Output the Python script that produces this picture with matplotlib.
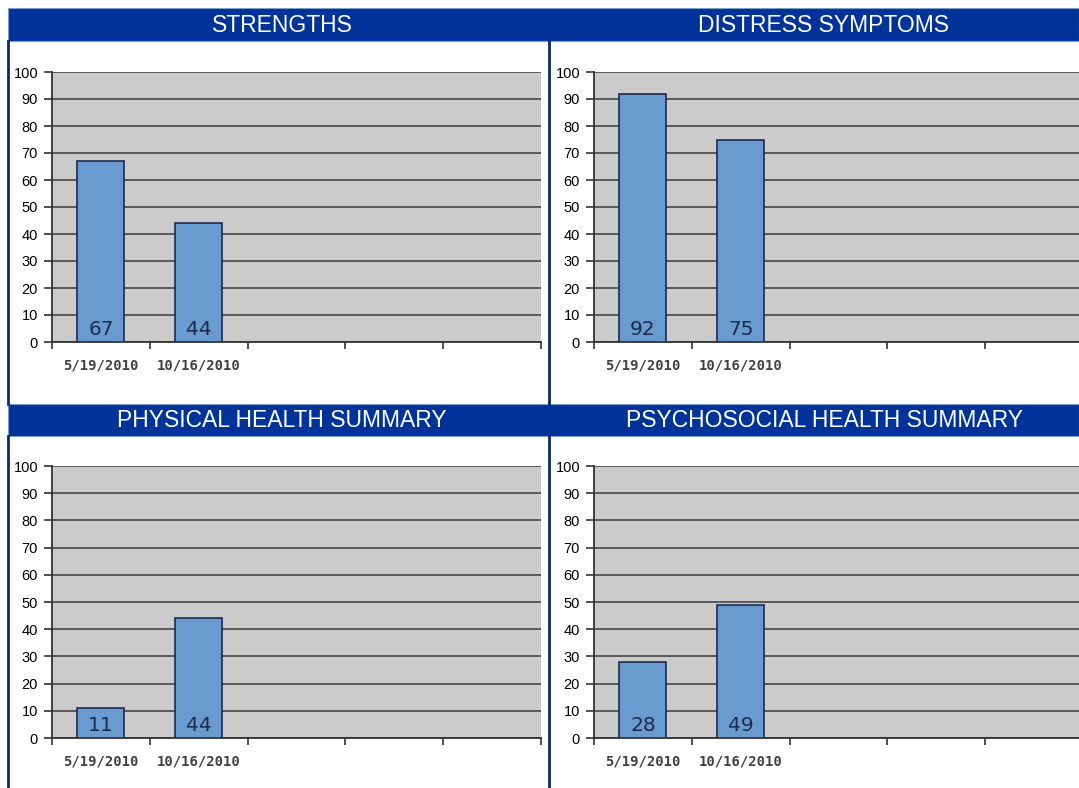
import matplotlib
matplotlib.use("Agg")
import matplotlib.pyplot as plt
from matplotlib.patches import Rectangle
from matplotlib.lines import Line2D

# data
dates = ["5/19/2010", "10/16/2010", "", "", ""]
titles = ["STRENGTHS", "DISTRESS SYMPTOMS",
          "PHYSICAL HEALTH SUMMARY", "PSYCHOSOCIAL HEALTH SUMMARY"]
strengths = [67, 44]
distress = [92, 75]
physical = [11, 44]
psychosocial = [28, 49]

W, H = 1079, 788
fig = plt.figure(figsize=(W / 100, H / 100), dpi=100)
fig.patch.set_facecolor("white")

def px(x0, y0, x1, y1):
    # pixel box (top-left origin) -> figure fraction rect
    return [x0 / W, 1 - y1 / H, (x1 - x0) / W, (y1 - y0) / H]

navy = "#0a2a6e"
header_blue = "#00339a"

# header bars
for y0, y1 in [(8, 41), (404, 436)]:
    fig.add_artist(Rectangle((8 / W, 1 - y1 / H), (W - 8) / W, (y1 - y0) / H,
                             transform=fig.transFigure, facecolor=header_blue,
                             edgecolor="#7f9ccc", lw=0.8))

# panel border lines
for x in [8, 549]:
    for y0, y1 in [(41, 404), (436, 788)]:
        fig.add_artist(Line2D([x / W, x / W], [1 - y0 / H, 1 - y1 / H],
                              transform=fig.transFigure, color=navy, lw=2))

# title text
title_pos = [(282, 25), (824, 25), (282, 420), (824, 420)]
for t, (x, y) in zip(titles, title_pos):
    fig.text(x / W, 1 - y / H, t, color="white", ha="center", va="center",
             fontsize=16.5, family="Liberation Sans")

panels = [
    (strengths, px(52, 72, 541, 342)),
    (distress, px(594, 72, 1083, 342)),
    (physical, px(52, 466, 541, 738)),
    (psychosocial, px(594, 466, 1083, 738)),
]

for vals, rect in panels:
    ax = fig.add_axes(rect)
    ax.set_facecolor("#cbcbcb")
    ax.set_xlim(-0.5, 4.5)
    ax.set_ylim(0, 100)
    ax.set_yticks(range(0, 101, 10))
    ax.yaxis.grid(True, color="#3a3a3a", lw=1.1)
    ax.set_axisbelow(True)
    xs = list(range(len(vals)))
    ax.bar(xs, vals, width=0.48, color="#6a9bd0", edgecolor="#1c2c4c", lw=1.2,
           zorder=3)
    for x, v in zip(xs, vals):
        ax.text(x, 1.2, str(v), ha="center", va="bottom", fontsize=14.5,
                color="#1e2a4a", zorder=4)
    # tick marks at category boundaries, labels centered
    ax.set_xticks([i - 0.5 for i in range(6)])
    ax.set_xticklabels([])
    ax.set_xticks(range(5), minor=True)
    ax.set_xticklabels(dates, minor=True, fontsize=10, fontweight="bold",
                       color="#404040", family="DejaVu Sans Mono")
    ax.tick_params(axis="x", which="minor", length=0, pad=12)
    ax.tick_params(axis="x", which="major", length=5, width=1.2,
                   color="#333333", direction="out")
    ax.tick_params(axis="y", length=6, width=1.2, color="#333333",
                   labelsize=10.5, pad=4)
    for lab in ax.get_yticklabels():
        lab.set_family("Liberation Sans")
    for s in ["top", "right"]:
        ax.spines[s].set_visible(False)
    for s in ["left", "bottom"]:
        ax.spines[s].set_color("#333333")
        ax.spines[s].set_linewidth(1.3)

fig.savefig("out.png", dpi=100)
